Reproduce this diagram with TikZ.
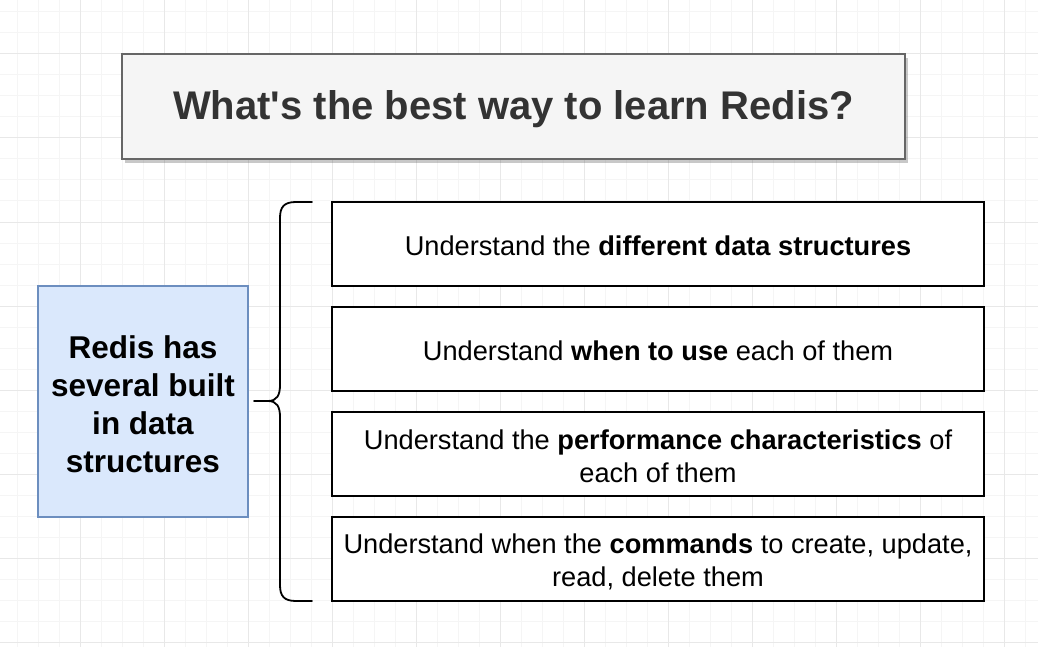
\documentclass[tikz,border=0pt]{standalone}
\usepackage{fontspec}
\setmainfont{Liberation Sans}[Ligatures=TeXOff]
\usetikzlibrary{shadows}
\definecolor{gridminor}{HTML}{F5F5F5}
\definecolor{gridmajor}{HTML}{E8E8E8}
\definecolor{titlefill}{HTML}{F5F5F5}
\definecolor{titleline}{HTML}{666666}
\definecolor{titletext}{HTML}{333333}
\definecolor{bluefill}{HTML}{DAE8FC}
\definecolor{blueline}{HTML}{6C8EBF}
\tikzset{
  titlebox/.style={draw=titleline, fill=titlefill, line width=2pt, text=titletext,
    font=\fontsize{40}{48}\selectfont\bfseries,
    drop shadow={shadow xshift=3pt, shadow yshift=-4pt, opacity=0.3, fill=black!70}},
  leftbox/.style={draw=blueline, fill=bluefill, line width=1.5pt, align=center,
    font=\fontsize{31.5}{38}\selectfont\bfseries},
  itembox/.style={draw=black, fill=white, line width=1.5pt, align=center,
    minimum width=652, minimum height=84, inner sep=0pt,
    font=\fontsize{27.2}{32.5}\selectfont},
  itemtext/.style={align=center, inner sep=0pt, font=\fontsize{27.2}{32.5}\selectfont},
  brace/.style={draw=black, line width=1.8pt, line cap=round}
}
\begin{document}
\begin{tikzpicture}[x=1pt,y=-1pt]
\fill[white] (0,0) rectangle (1038,647);
\useasboundingbox (0,0) rectangle (1038,647);
\foreach \x in {17,38,...,1037} \draw[gridminor,line width=1pt] (\x,0) -- (\x,647);
\foreach \y in {12,33,...,646} \draw[gridminor,line width=1pt] (0,\y) -- (1038,\y);
\foreach \x in {80,164,...,1037} \draw[gridmajor,line width=1pt] (\x,0) -- (\x,647);
\foreach \y in {54,138,...,646} \draw[gridmajor,line width=1pt] (0,\y) -- (1038,\y);

\node[titlebox, minimum width=783, minimum height=105, inner sep=0pt] (title) at (513.5,107) {};
\node[text=titletext, font=\fontsize{40}{48}\selectfont\bfseries, inner sep=0pt] (titletxt) at (513.5,109.5) {What's the best way to learn Redis?};

\node[leftbox, minimum width=210, minimum height=231, inner sep=0pt] (redis) at (143,401.5) {};
\node[align=center, inner sep=0pt, font=\fontsize{31.5}{38}\selectfont\bfseries] (redistxt) at (143,404)
  {Redis has\\several built\\in data\\structures};

\node[itembox] (i1) at (658,244) {};
\node[itemtext] (t1) at (658,245.5) {Understand the \textbf{different data structures}};
\node[itembox] (i2) at (658,349) {};
\node[itemtext] (t2) at (658,350.5) {Understand \textbf{when to use} each of them};
\node[itembox] (i3) at (658,454) {};
\node[itemtext] (t3) at (658,456.5) {Understand the \textbf{performance characteristics} of\\each of them};
\node[itembox] (i4) at (658,559) {};
\node[itemtext] (t4) at (658,562) {Understand when the \textbf{commands} to create, update,\\read, delete them};

\coordinate (btop) at (312,202);
\coordinate (bbot) at (312,601);
\coordinate (btip) at (254,401);
\draw[brace] (btop) -- (296,202) .. controls (284,202) and (280,207) .. (280,218)
  -- (280,385) .. controls (280,395) and (277,401) .. (268,401) -- (btip);
\draw[brace] (268,401) .. controls (277,401) and (280,407) .. (280,417)
  -- (280,585) .. controls (280,596) and (284,601) .. (296,601) -- (bbot);
\end{tikzpicture}
\end{document}
